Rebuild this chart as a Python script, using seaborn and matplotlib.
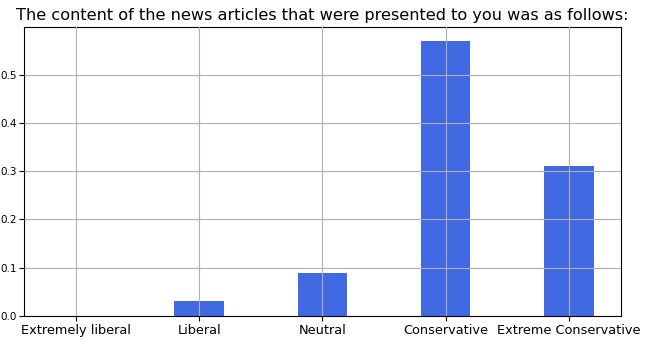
import matplotlib
matplotlib.use("Agg")
import matplotlib.pyplot as plt
import seaborn as sns
import pandas as pd

categories = ["Extremely liberal", "Liberal", "Neutral", "Conservative", "Extreme Conservative"]
values = [0.0, 0.03, 0.09, 0.57, 0.31]

df = pd.DataFrame({"category": categories, "value": values})

fig, ax = plt.subplots(figsize=(6.5, 3.39), dpi=100)
sns.barplot(data=df, x="category", y="value", color="#4169e1", saturation=1,
            width=0.4, ax=ax)
ax.set_xlim(-0.42, 4.42)
ax.set_ylim(0, 0.5985)
ax.grid(True, color="#b0b0b0", linewidth=0.8)
ax.set_axisbelow(False)
for b in ax.patches:
    b.set_zorder(1)
ax.set_xlabel("")
ax.set_ylabel("")
ax.tick_params(axis="x", labelsize=9.3, pad=2)
ax.tick_params(axis="y", labelsize=7.5, pad=2)
ax.set_title("The content of the news articles that were presented to you was as follows:",
             fontsize=11.6, pad=5)
fig.subplots_adjust(left=0.037, right=0.955, top=0.92, bottom=0.068)
fig.savefig("out.png", dpi=100)
